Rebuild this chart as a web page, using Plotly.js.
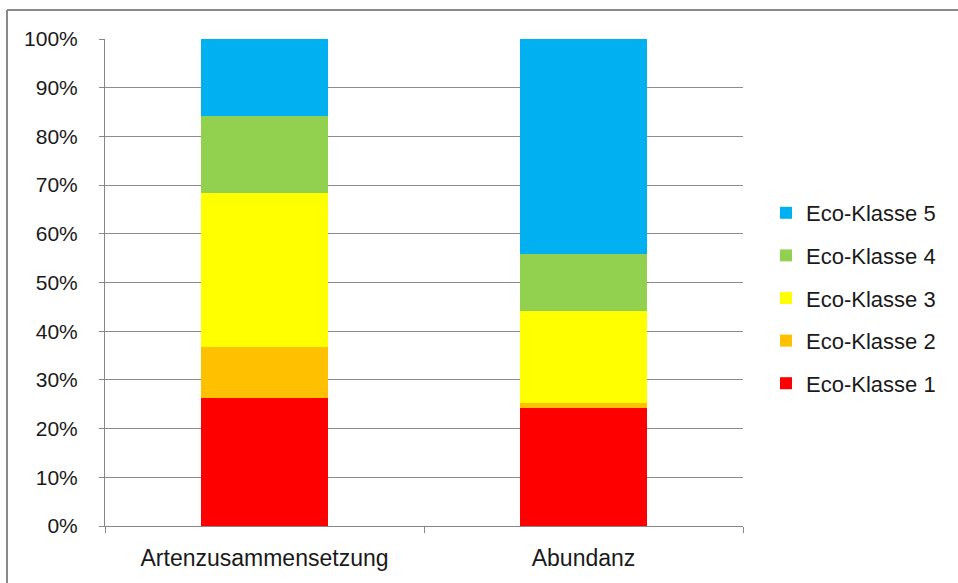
<!DOCTYPE html>
<html>
<head>
<meta charset="utf-8">
<script src="https://cdn.plot.ly/plotly-3.0.1.min.js"></script>
<style>
  html, body { margin: 0; padding: 0; background: #fff; }
  #chart { width: 958px; height: 583px; }
</style>
</head>
<body>
<div id="chart"></div>
<script>
// Categories on the x axis
const categories = ["Artenzusammensetzung", "Abundanz"];

// Share of each eco class per category (percent)
const ecoKlasse1 = [26.2, 24.2];
const ecoKlasse2 = [10.5, 1.0];
const ecoKlasse3 = [31.7, 18.9];
const ecoKlasse4 = [15.8, 11.8];
const ecoKlasse5 = [15.8, 44.1];

const seriesNames = ["Eco-Klasse 1", "Eco-Klasse 2", "Eco-Klasse 3", "Eco-Klasse 4", "Eco-Klasse 5"];
const seriesValues = [ecoKlasse1, ecoKlasse2, ecoKlasse3, ecoKlasse4, ecoKlasse5];
const seriesColors = ["#FF0000", "#FFC000", "#FFFF00", "#92D050", "#00B0F0"];

const yTickVals = [0, 10, 20, 30, 40, 50, 60, 70, 80, 90, 100];
const yTickText = ["0%", "10%", "20%", "30%", "40%", "50%", "60%", "70%", "80%", "90%", "100%"];

// Stacked bars; the legend lists the top class first
const traces = seriesNames.map((name, i) => ({
  type: "bar",
  name: name,
  x: categories,
  y: seriesValues[i],
  legendgroup: "g" + i,
  legendrank: 1000 - i,
  marker: { color: seriesColors[i], line: { width: 0 } },
  hoverinfo: "name+y"
}));

// Plot area in pixels
const W = 958, H = 583;
const L = 105, R = 743, T = 39, B = 526;
const pw = R - L, ph = B - T;
const px = v => (v - L) / pw;
const py = v => (B - v) / ph;

const fontFamily = "'Liberation Sans', Arial, sans-serif";
const textColor = "#1a1a1a";

const layout = {
  width: W,
  height: H,
  margin: { l: L, r: W - R, t: T, b: H - B, pad: 0 },
  paper_bgcolor: "#ffffff",
  plot_bgcolor: "#ffffff",
  barmode: "stack",
  bargap: 0.6,
  font: { family: fontFamily, size: 22, color: textColor },
  showlegend: true,
  legend: {
    x: px(766),
    xanchor: "left",
    y: py(298),
    yanchor: "middle",
    traceorder: "grouped",
    tracegroupgap: 11,
    font: { family: fontFamily, size: 22, color: textColor },
    bgcolor: "rgba(0,0,0,0)",
    borderwidth: 0
  },
  xaxis: {
    type: "category",
    showline: true,
    linecolor: "#868686",
    linewidth: 1,
    ticks: "outside",
    tickson: "boundaries",
    ticklen: 6,
    tickcolor: "#868686",
    tickwidth: 1,
    showgrid: false,
    zeroline: false,
    ticklabelstandoff: 11,
    tickfont: { family: fontFamily, size: 23, color: textColor },
    fixedrange: true
  },
  yaxis: {
    range: [0, 100],
    tickvals: yTickVals,
    ticktext: yTickText,
    showline: true,
    linecolor: "#868686",
    linewidth: 1,
    ticks: "outside",
    ticklen: 5,
    tickcolor: "#868686",
    tickwidth: 1,
    showgrid: true,
    gridcolor: "#8c8c8c",
    gridwidth: 1,
    zeroline: false,
    ticklabelstandoff: 17,
    tickfont: { family: fontFamily, size: 21, color: textColor },
    fixedrange: true
  },
  shapes: [
    // outer chart frame (top and left edges)
    { type: "line", xref: "paper", yref: "paper", x0: px(7), x1: px(W + 2), y0: py(10), y1: py(10),
      line: { color: "#8a8a8a", width: 2 } },
    { type: "line", xref: "paper", yref: "paper", x0: px(7), x1: px(7), y0: py(10), y1: py(H + 2),
      line: { color: "#8a8a8a", width: 2 } }
  ]
};

Plotly.newPlot("chart", traces, layout, { displayModeBar: false, staticPlot: true });
</script>
</body>
</html>
